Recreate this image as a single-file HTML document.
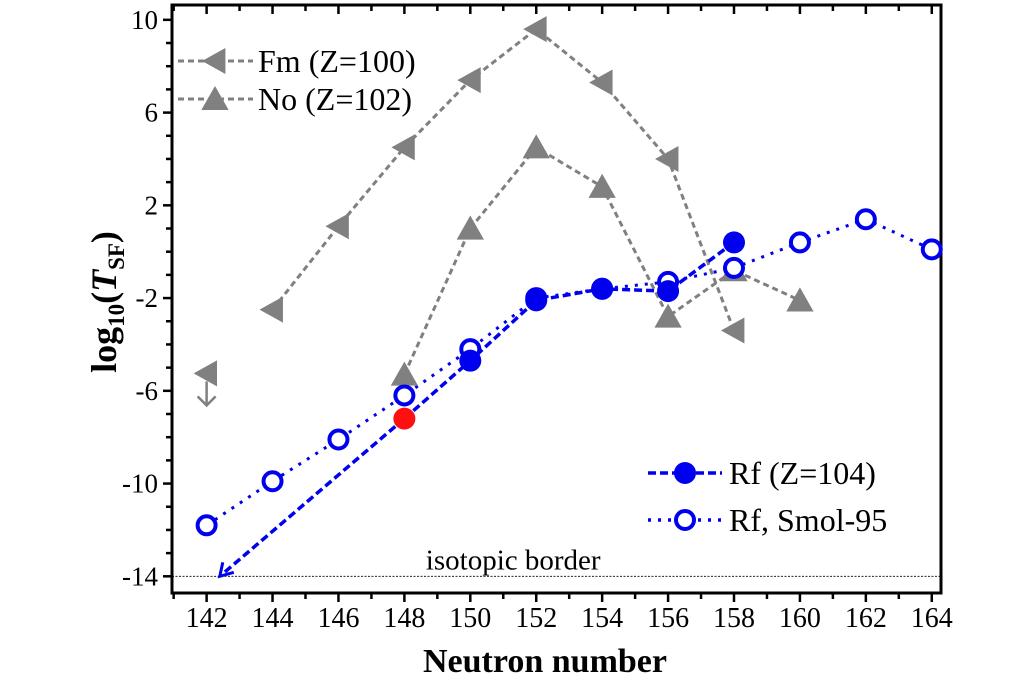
<!DOCTYPE html>
<html><head><meta charset="utf-8"><style>
body{margin:0;background:#fff;}
svg{display:block;font-family:"Liberation Serif",serif;}
</style></head><body>
<svg id="chart" width="1024" height="683" viewBox="0 0 1024 683"></svg>
<script>
const xTicks=[142,144,146,148,150,152,154,156,158,160,162,164];
const yTicks=[10,6,2,-2,-6,-10,-14];
const fmN=[144,146,148,150,152,154,156,158];
const fmV=[-2.5,1.1,4.5,7.4,9.6,7.3,4.0,-3.4];
const fm142=[142,-5.25];
const noN=[148,150,152,154,156,158,160];
const noV=[-5.3,1.0,4.5,2.8,-2.8,-0.8,-2.1];
const rfN=[148,150,152,154,156,158];
const rfV=[-7.2,-4.7,-2.1,-1.6,-1.7,0.4];
const smN=[142,144,146,148,150,152,154,156,158,160,162,164];
const smV=[-11.8,-9.9,-8.1,-6.2,-4.2,-2.0,-1.6,-1.3,-0.7,0.4,1.4,0.1];
const border=-14;

const X0=172,X1=941,Y0=5,Y1=593;
const xmin=140.95,xmax=164.28,ymin=-14.72,ymax=10.64;
const sx=v=>X0+(v-xmin)/(xmax-xmin)*(X1-X0);
const sy=v=>Y1-(v-ymin)/(ymax-ymin)*(Y1-Y0);
const svg=document.getElementById('chart');
const NS='http://www.w3.org/2000/svg';
function mk(tag,attrs,parent){const e=document.createElementNS(NS,tag);for(const k in attrs)e.setAttribute(k,attrs[k]);(parent||svg).appendChild(e);return e;}

let e=mk('line',{x1:X0,x2:X1,y1:sy(border),y2:sy(border),stroke:'#000','stroke-width':0.8,'stroke-dasharray':'2,1.5'});


e=mk('text',{x:sx(148.65),y:sy(border)-7,'font-size':29});e.textContent='isotopic border';



e=mk('rect',{x:X0,y:Y0,width:X1-X0,height:Y1-Y0,fill:'none',stroke:'#000','stroke-width':3});


for(let v=141;v<=164;v++){
  const x=sx(v),maj=v%2===0;
  mk('line',{x1:x,x2:x,y1:Y1,y2:Y1+(maj?9:6),stroke:'#000','stroke-width':2.5});
  mk('line',{x1:x,x2:x,y1:Y0,y2:Y0+(maj?9:6),stroke:'#000','stroke-width':2.5});
}
xTicks.forEach(v=>{e=mk('text',{x:sx(v),y:627,'font-size':28,'text-anchor':'middle'});e.textContent=v;

});
for(let v=-14;v<=10;v++){
  const y=sy(v),maj=(v+14)%4===0;
  mk('line',{x1:X0-(maj?9:6),x2:X0,y1:y,y2:y,stroke:'#000','stroke-width':2.5});
}
yTicks.forEach(v=>{e=mk('text',{x:158,y:sy(v)+9,'font-size':27,'text-anchor':'end'});e.textContent=v;

});
e=mk('text',{x:545,y:672,'font-size':34,'font-weight':'bold','text-anchor':'middle'});e.textContent='Neutron number';


e=mk('text',{x:0,y:0,'font-size':36,'font-weight':'bold',transform:'translate(116,302) rotate(-90)','text-anchor':'middle'});
e.innerHTML='log<tspan font-size="23" dy="8">10</tspan><tspan dy="-8">(</tspan><tspan font-style="italic">T</tspan><tspan font-size="23" dy="8">SF</tspan><tspan dy="-8">)</tspan>';



const GR='#808080',BL='#0000ee';
function line(ns,vs,color,dash,w,name){
  const p=ns.map((n,i)=>sx(n)+','+sy(vs[i])).join(' ');
  const l=mk('polyline',{points:p,fill:'none',stroke:color,'stroke-width':w,'stroke-dasharray':dash});
  
  
}
function ltri(x,y,s){return mk('polygon',{points:`${x-s},${y} ${x+s*0.8},${y-s} ${x+s*0.8},${y+s}`,fill:GR});}
function utri(x,y,s){return mk('polygon',{points:`${x},${y-s} ${x-s*1.05},${y+s*0.85} ${x+s*1.05},${y+s*0.85}`,fill:GR});}

line(fmN,fmV,GR,'6,4',3,'fm-line');
line(noN,noV,GR,'6,4',3,'no-line');
line(smN,smV,BL,'3,7',3,'smol-line');
line(rfN,rfV,BL,'8,4',3.5,'rf-line');
const ax=sx(rfN[0]),ay=sy(rfV[0]),bx=sx(142.4),by=sy(border);
e=mk('line',{x1:ax,y1:ay,x2:bx,y2:by,stroke:BL,'stroke-width':3.5,'stroke-dasharray':'8,4'});


mk('polyline',{points:`${bx+3},${by-14} ${bx},${by} ${bx+14},${by-4}`,fill:'none',stroke:BL,'stroke-width':3});

fmN.forEach((n,i)=>{e=ltri(sx(n),sy(fmV[i]),13);

});
e=ltri(sx(fm142[0]),sy(fm142[1]),13);


{const x=sx(fm142[0]),y=sy(fm142[1]);mk('polyline',{points:`${x},${y+8} ${x},${y+32}`,stroke:GR,'stroke-width':2.5});
mk('polyline',{points:`${x-9},${y+23} ${x},${y+32} ${x+9},${y+23}`,fill:'none',stroke:GR,'stroke-width':2.5});}
noN.forEach((n,i)=>{e=utri(sx(n),sy(noV[i]),13);

});
smN.forEach((n,i)=>{e=mk('circle',{cx:sx(n),cy:sy(smV[i]),r:9,fill:'#fff',stroke:BL,'stroke-width':4});

});
rfN.forEach((n,i)=>{e=mk('circle',{cx:sx(n),cy:sy(rfV[i]),r:11,fill:i===0?'#ff1010':BL});

});

function leg(y,kind,label,name){
  const g=mk('g',{});
  if(kind==='fm'||kind==='no'){
    mk('line',{x1:178,x2:253,y1:y,y2:y,stroke:GR,'stroke-width':3,'stroke-dasharray':'6,4'},g);
    const m=kind==='fm'?ltri(215,y,13):utri(215,y,13);g.appendChild(m);
    const t=mk('text',{x:258,y:y+11,'font-size':32},g);t.textContent=label;
  }else{
    mk('line',{x1:648,x2:722,y1:y,y2:y,stroke:BL,'stroke-width':3.5,'stroke-dasharray':kind==='rf'?'8,4':'3,7'},g);
    if(kind==='rf')mk('circle',{cx:685,cy:y,r:11,fill:BL},g);
    else mk('circle',{cx:685,cy:y,r:9,fill:'#fff',stroke:BL,'stroke-width':4},g);
    const t=mk('text',{x:729,y:y+11,'font-size':32},g);t.textContent=label;
  }
}
leg(61,'fm','Fm (Z=100)','legend-fm');
leg(99,'no','No (Z=102)','legend-no');
leg(473,'rf','Rf (Z=104)','legend-rf');
leg(520,'smol','Rf, Smol-95','legend-smol');
</script>
</body></html>
